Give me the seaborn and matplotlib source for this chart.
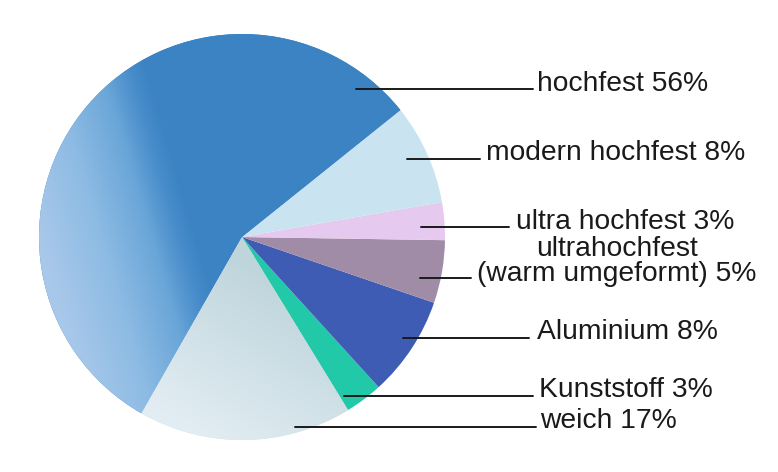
import numpy as np
import matplotlib
matplotlib.use("Agg")
import matplotlib.pyplot as plt
from matplotlib.colors import LinearSegmentedColormap
import seaborn as sns

# data, counter-clockwise from the upper right
categories = ["hochfest", "weich", "Kunststoff", "Aluminium",
              "ultrahochfest\n(warm umgeformt)", "ultra hochfest", "modern hochfest"]
shares = [56, 17, 3, 8, 5, 3, 8]
slice_colors = ["#3b83c3", "#cddfe6", "#22c9a9", "#3f5cb4",
                "#a18ca8", "#e6c9ef", "#c9e4f0"]

# leader lines (x start, x end, y) and label anchors, in pixels
leaders = [(356, 533, 89), (295, 536, 427), (344, 533, 396), (403, 529, 338),
           (420, 471, 278), (421, 509, 227), (407, 480, 159)]
label_pos = [(537, 91), (540, 428), (539, 397), (537, 339),
             (617, 256), (516, 229), (486, 160)]

sns.set_theme(style="white")
plt.rcParams["font.family"] = ["Liberation Sans", "DejaVu Sans"]

W, H = 778, 472
fig = plt.figure(figsize=(W / 100, H / 100), dpi=100)
cx, cy, r = 242, 237, 203
ax = fig.add_axes([(cx - r) / W, 1 - (cy + r) / H, 2 * r / W, 2 * r / H])

wedges, _ = ax.pie(shares, colors=slice_colors, startangle=38.7, radius=1,
                   wedgeprops=dict(linewidth=0))


def shade(wedge, stops, direction, span):
    xs = np.linspace(-1, 1, 400)
    X, Y = np.meshgrid(xs, xs)
    d = np.array(direction) / np.hypot(*direction)
    proj = X * d[0] + Y * d[1]
    t = np.clip((proj - span[0]) / (span[1] - span[0]), 0, 1)
    cmap = LinearSegmentedColormap.from_list("g", stops)
    im = ax.imshow(t, cmap=cmap, extent=(-1, 1, -1, 1), origin="lower",
                   vmin=0, vmax=1, interpolation="bilinear", zorder=wedge.get_zorder() + 0.1)
    im.set_clip_path(wedge)


shade(wedges[0], [(0, "#a8c8ea"), (0.39, "#8dbbe4"), (0.71, "#6aa6d8"),
                  (0.87, "#4b8fcc"), (1, "#3b83c3")], (0.96, 0.28), (-0.96, -0.22))
shade(wedges[1], [(0, "#e2edf3"), (1, "#bfd5dc")], (0.5, 0.87), (-0.95, -0.1))

ax.set_xlim(-1, 1)
ax.set_ylim(-1, 1)
ax.set_aspect("equal")
ax.axis("off")

ink = "#1a1a1a"
for cat, share, (x0, x1, y), (tx, ty) in zip(categories, shares, leaders, label_pos):
    fig.add_artist(plt.Line2D([x0 / W, x1 / W], [1 - y / H, 1 - y / H],
                              color=ink, lw=1.4, transform=fig.transFigure))
    parts = cat.split("\n")
    if len(parts) == 1:
        fig.text(tx / W, 1 - ty / H, f"{cat} {share}%", fontsize=20.3,
                 color=ink, ha="left", va="baseline")
    else:
        fig.text(tx / W, 1 - ty / H, parts[0], fontsize=20.3,
                 color=ink, ha="center", va="baseline")
        fig.text(tx / W, 1 - (ty + 25) / H, f"{parts[1]} {share}%", fontsize=20.3,
                 color=ink, ha="center", va="baseline")

fig.savefig("out.png", dpi=100, facecolor="white")
